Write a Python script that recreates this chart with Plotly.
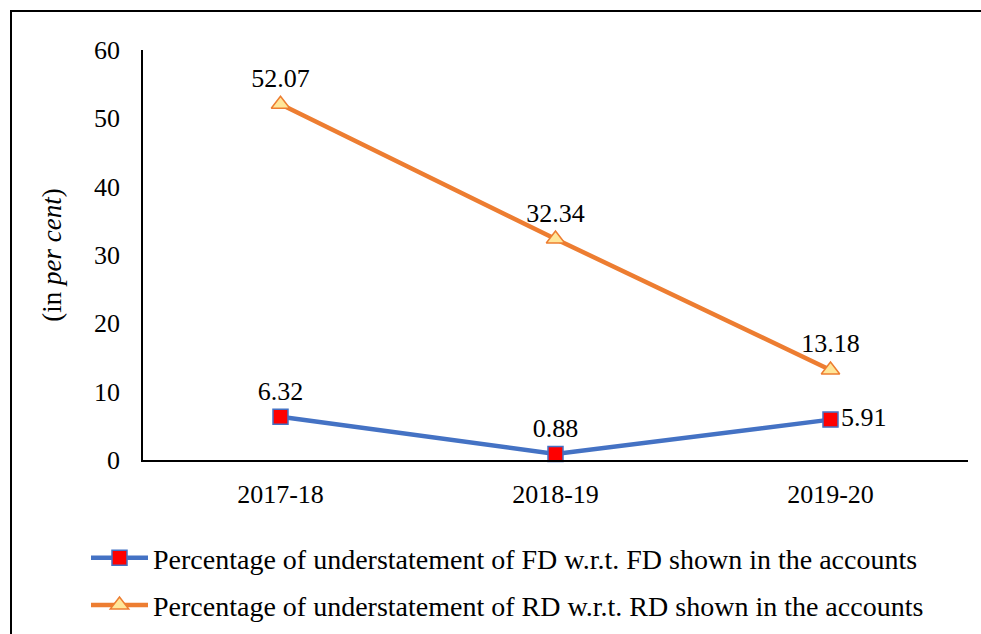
import plotly.graph_objects as go

categories = ["2017-18", "2018-19", "2019-20"]
fd_values = [6.32, 0.88, 5.91]
rd_values = [52.07, 32.34, 13.18]
fd_name = "Percentage of understatement of FD w.r.t. FD shown in the accounts"
rd_name = "Percentage of understatement of RD w.r.t. RD shown in the accounts"
y_ticks = [0, 10, 20, 30, 40, 50, 60]

FONT = "Liberation Serif, Times New Roman, serif"

fig = go.Figure()
fig.add_trace(go.Scatter(
    x=categories, y=fd_values, name=fd_name, mode="lines+markers+text",
    line=dict(color="#4472C4", width=4.5),
    marker=dict(symbol="square", size=15, color="#FF0000", line=dict(color="#4472C4", width=1.5)),
    text=[f"{v:.2f}" for v in fd_values],
    textposition=["top center", "top center", "middle right"],
    textfont=dict(family=FONT, size=26, color="black"),
    legendgroup="a", cliponaxis=False,
))
fig.add_trace(go.Scatter(
    x=categories, y=rd_values, name=rd_name, mode="lines+markers+text",
    line=dict(color="#ED7D31", width=4.5),
    marker=dict(symbol="triangle-up", size=16, color="#FFE699", line=dict(color="#ED7D31", width=1.5)),
    text=[f"{v:.2f}" for v in rd_values],
    textposition="top center",
    textfont=dict(family=FONT, size=26, color="black"),
    legendgroup="b", cliponaxis=False,
))

L, R, T, B = 143, 13, 50, 174
W, H = 981, 634
pw, ph = W - L - R, H - T - B

fig.update_layout(
    width=W, height=H,
    margin=dict(l=L, r=R, t=T, b=B, autoexpand=False),
    paper_bgcolor="white", plot_bgcolor="white",
    font=dict(family=FONT, size=26, color="black"),
    showlegend=True,
    legend=dict(
        orientation="v", x=(86 - L) / pw, xanchor="left", y=-0.178, yanchor="top",
        font=dict(family=FONT, size=28, color="black"),
        traceorder="grouped", tracegroupgap=8, itemwidth=57,
        bgcolor="rgba(0,0,0,0)",
    ),
    xaxis=dict(
        type="category", showgrid=False, showline=True, linecolor="black", linewidth=2,
        ticks="", tickfont=dict(family=FONT, size=26), range=[-0.5, 2.5],
        ticklabelstandoff=10,
    ),
    yaxis=dict(
        range=[0, 60], tickvals=y_ticks, showgrid=False, showline=True,
        linecolor="black", linewidth=1.5, ticks="", zeroline=False,
        tickfont=dict(family=FONT, size=26), ticklabelstandoff=16,
        title=dict(text="(in <i>per cent</i>)", font=dict(family=FONT, size=27), standoff=25),
    ),
    shapes=[dict(
        type="rect", xref="paper", yref="paper",
        x0=(11 - L) / pw, x1=(W + 5 - L) / pw,
        y0=-(B + 10) / ph, y1=1 + (T - 11) / ph,
        line=dict(color="black", width=2), fillcolor="rgba(0,0,0,0)", layer="below",
    )],
)

fig.write_html(
    "out.html",
    config={"displayModeBar": False},
    post_script="document.body.style.margin='0';document.body.style.overflow='hidden';",
)
